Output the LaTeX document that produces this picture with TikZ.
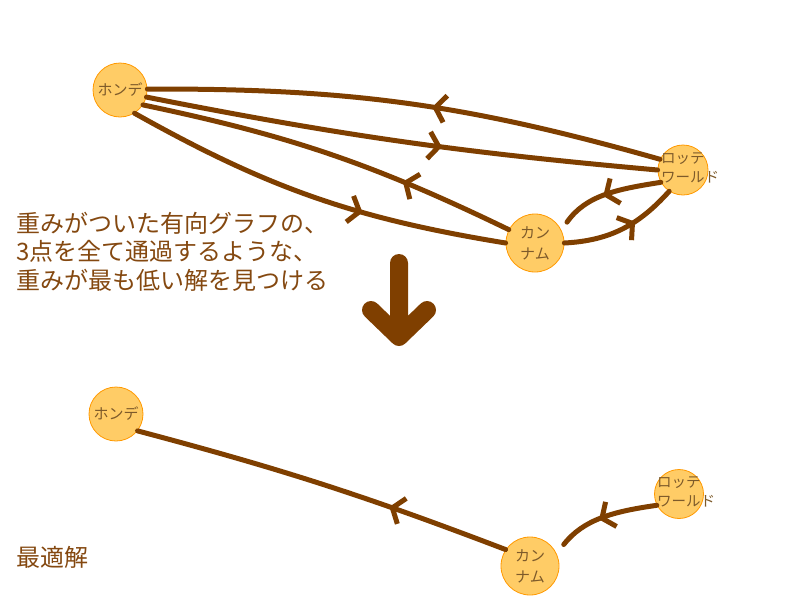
\documentclass[tikz,border=0pt]{standalone}
\usepackage{fontspec}
\setmainfont{Noto Sans CJK JP}
\usetikzlibrary{arrows.meta,decorations.markings}
\definecolor{wire}{HTML}{7F3F00}
\definecolor{spotfill}{HTML}{FFCC66}
\definecolor{spotline}{HTML}{FF9900}
\definecolor{spotink}{HTML}{7D5A2A}
\definecolor{noteink}{HTML}{844810}
\tikzset{
  spot/.style={circle, draw=spotline, fill=spotfill, line width=0.8pt, inner sep=0pt,
    minimum size=#1, text=spotink, align=center, font=\fontsize{15pt}{21pt}\selectfont},
  spottext/.style={inner sep=0pt, text=spotink, align=left, font=\fontsize{14.5pt}{19.5pt}\selectfont},
  note/.style={inner sep=0pt, text=noteink, align=left, font=\fontsize{24pt}{28.5pt}\selectfont},
  link/.style={wire, line width=5pt, line cap=round},
  midarrow/.style={postaction={decorate}, decoration={markings,
    mark=at position #1 with {\arrow{Straight Barb[length=10pt,width=27pt]}}}}
}
\begin{document}
\begin{tikzpicture}[x=1pt, y=1pt]
  \useasboundingbox (0,0) rectangle (800,-600);
  % the whole graph
  \node[spot=54pt] (hondeA) at (120,-90) {ホンデ};
  \node[spot=50pt] (lotteA) at (683,-170) {};
  \node[spottext, anchor=west] (lotteA-text) at (661,-168) {ロッテ\\ワールド};
  \node[spot=58pt] (kannamA) at (535,-243) {カン\\ナム};
  \draw[link]
  (lotteA.155) edge [bend right=8, midarrow=0.45] (hondeA.2)
  (hondeA.-15) edge [bend right=3, midarrow=0.58] (lotteA.west)
  (kannamA.153) edge [bend right=7, midarrow=0.3] (hondeA.-33)
  (hondeA.-58) edge [bend right=10, midarrow=0.63] (kannamA.west)
  (lotteA.209) edge [out=189, in=55, shorten >=9.7pt, midarrow=0.52] (kannamA.26)
  (kannamA.east) edge [out=3, in=228, midarrow=0.62] (lotteA.237);
  \node[note, anchor=base west] (task) at (16,-289)
    {重みがついた有向グラフの、\\3点を全て通過するような、\\重みが最も低い解を見つける};
  % big arrow
  \draw[wire, line width=18pt, line cap=round, line join=round]
  (399,-263) -- (399,-337) (371,-310) -- (399,-337) -- (427,-310);
  % the best path
  \node[spot=54pt] (hondeB) at (116,-414) {ホンデ};
  \node[spot=49pt] (lotteB) at (679,-494) {};
  \node[spottext, anchor=west] (lotteB-text) at (657,-492) {ロッテ\\ワールド};
  \node[spot=58pt] (kannamB) at (530,-566) {カン\\ナム};
  \draw[link]
  (kannamB.146) edge [bend right=3, midarrow=0.32] (hondeB.-38)
  (lotteB.207) edge [out=188, in=52, shorten >=11.5pt, midarrow=0.52] (kannamB.25);
  \node[note, anchor=base west] (best) at (16,-566) {最適解};
\end{tikzpicture}
\end{document}
